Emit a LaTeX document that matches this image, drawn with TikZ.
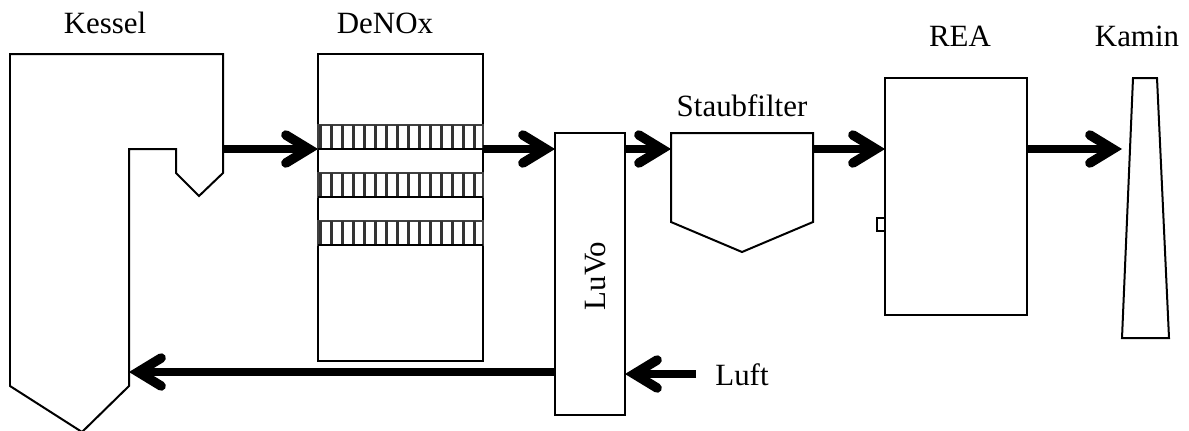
\documentclass[tikz,border=0pt]{standalone}
\usepackage{fontspec}
\setmainfont{Liberation Serif}
\usetikzlibrary{arrows.meta}

\tikzset{
    box/.style={draw, line width=.04cm, inner sep=0pt, outer sep=0pt},
    outline/.style={draw, line width=.04cm, line join=miter},
    flow/.style={line width=.16cm, -{Straight Barb[length=.46cm, width=.56cm, line width=.19cm, line cap=round, line join=miter]}},
    label/.style={font=\fontsize{17.6}{20}\selectfont, inner sep=0pt, anchor=base}
}

\begin{document}
\begin{tikzpicture}[x=.02cm, y=-.02cm]
        \useasboundingbox (0,0) rectangle (1189,430);

        \coordinate (K1) at (10,54);
        \coordinate (K2) at (223,54);
        \coordinate (KO) at (223,149);
        \coordinate (K3) at (223,173);
        \coordinate (K4) at (199,196);
        \coordinate (K5) at (176,173);
        \coordinate (K6) at (176,149);
        \coordinate (K7) at (129,149);
        \coordinate (KI) at (129,372);
        \coordinate (K8) at (129,386);
        \coordinate (K9) at (82,432);
        \coordinate (K10) at (10,386);

        \draw[outline] (K1) -- (K2) -- (K3) -- (K4) -- (K5) -- (K6) -- (K7) -- (K8) -- (K9) -- (K10) -- cycle;

        \node[box, minimum width=3.3cm, minimum height=6.14cm] (denox) at (400.5,207.5) {};
        \node[box, minimum width=1.4cm, minimum height=5.64cm] (luvo) at (590,274) {};
        \node[box, minimum width=2.84cm, minimum height=4.74cm] (rea) at (956,196.5) {};
        \node[box, minimum width=.16cm, minimum height=.26cm, anchor=east] (reaport) at (rea.west |- 0,224.5) {};

        \foreach \y in {125,173,221} {
            \draw[line width=.04cm, black!75] (318,\y) rectangle (483,\y+24);
            \foreach \i in {0,...,14}
                \draw[line width=.07cm, black!80] (320.5+11*\i,\y) -- (320.5+11*\i,\y+24);
            \draw[line width=.05cm] (318,\y+24) -- (483,\y+24);
        }

        \coordinate (S1) at (671,133);
        \coordinate (S2) at (813,133);
        \coordinate (S3) at (813,222);
        \coordinate (S4) at (742,252);
        \coordinate (S5) at (671,222);
        \draw[outline] (S1) -- (S2) -- (S3) -- (S4) -- (S5) -- cycle;

        \coordinate (C1) at (1133,78);
        \coordinate (C2) at (1157,78);
        \coordinate (C3) at (1169,338);
        \coordinate (C4) at (1122,338);
        \draw[outline] (C1) -- (C2) -- (C3) -- (C4) -- cycle;

        \coordinate (SI) at (671,149);
        \coordinate (SO) at (813,149);
        \coordinate (CI) at (1122,149);
        \coordinate (LS) at (696,374);

        \draw[flow] (KO) -- (denox.west |- KO);
        \draw[flow] (denox.east |- KO) -- (luvo.west |- KO);
        \draw[flow] (luvo.east |- KO) -- (SI);
        \draw[flow] (SO) -- (rea.west |- KO);
        \draw[flow] (rea.east |- KO) -- (CI);
        \draw[flow] (luvo.west |- KI) -- (KI);
        \draw[flow] (LS) -- (luvo.east |- LS);

        \node[label] (kessel) at (105,33) {Kessel};
        \node[label] (denoxlabel) at (385,33) {DeNOx};
        \node[label] (staubfilter) at (742,116) {Staubfilter};
        \node[label] (realabel) at (960,46) {REA};
        \node[label] (kamin) at (1137,46) {Kamin};
        \node[label] (luft) at (742,385) {Luft};
        \node[label, rotate=90] (luvolabel) at (605,276) {LuVo};
\end{tikzpicture}
\end{document}
